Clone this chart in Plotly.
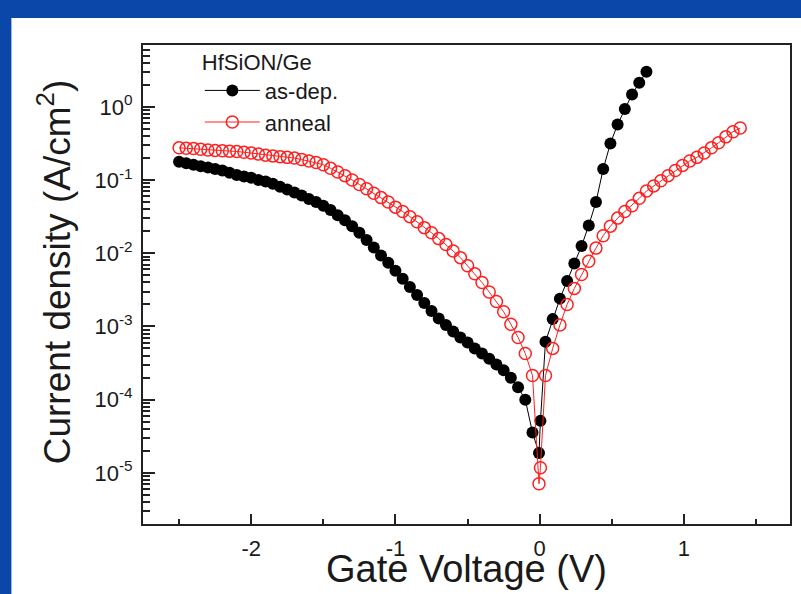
import plotly.graph_objects as go

# ---------------- data ----------------
# as-dep. sample : gate voltage (V) and log10 of current density (A/cm^2)
asdep_V = [-2.50, -2.45, -2.40, -2.35, -2.30, -2.25, -2.20, -2.15, -2.10, -2.05,
           -2.00, -1.95, -1.90, -1.85, -1.80, -1.75, -1.70, -1.65, -1.60, -1.55,
           -1.50, -1.45, -1.40, -1.35, -1.30, -1.25, -1.20, -1.15, -1.10, -1.05,
           -1.00, -0.95, -0.90, -0.85, -0.80, -0.75, -0.70, -0.65, -0.60, -0.55,
           -0.50, -0.45, -0.40, -0.35, -0.30, -0.25, -0.20, -0.15, -0.10, -0.05,
           -0.005, 0.005,
           0.04, 0.09, 0.14, 0.19, 0.24, 0.29, 0.34, 0.39, 0.44, 0.49,
           0.54, 0.59, 0.64, 0.69, 0.74]
asdep_logJ = [-0.75, -0.77, -0.79, -0.81, -0.83, -0.85, -0.87, -0.90, -0.93, -0.95,
              -0.97, -1.00, -1.02, -1.05, -1.09, -1.13, -1.17, -1.21, -1.26, -1.30,
              -1.35, -1.41, -1.48, -1.55, -1.63, -1.72, -1.82, -1.92, -2.03, -2.13,
              -2.24, -2.35, -2.46, -2.57, -2.68, -2.79, -2.89, -2.98, -3.07, -3.15,
              -3.22, -3.30, -3.37, -3.44, -3.52, -3.60, -3.70, -3.83, -4.00, -4.45,
              -4.73, -4.29,
              -3.21, -2.90, -2.62, -2.38, -2.14, -1.90, -1.62, -1.30, -0.85, -0.50,
              -0.24, -0.03, 0.17, 0.33, 0.48]

# anneal sample
anneal_V = [-2.50, -2.45, -2.40, -2.35, -2.30, -2.25, -2.20, -2.15, -2.10, -2.05,
            -2.00, -1.95, -1.90, -1.85, -1.80, -1.75, -1.70, -1.65, -1.60, -1.55,
            -1.50, -1.45, -1.40, -1.35, -1.30, -1.25, -1.20, -1.15, -1.10, -1.05,
            -1.00, -0.95, -0.90, -0.85, -0.80, -0.75, -0.70, -0.65, -0.60, -0.55,
            -0.50, -0.45, -0.40, -0.35, -0.30, -0.25, -0.20, -0.15, -0.10, -0.05,
            -0.005, 0.005,
            0.04, 0.09, 0.14, 0.19, 0.24, 0.29, 0.34, 0.39, 0.44, 0.49,
            0.54, 0.59, 0.64, 0.69, 0.74, 0.79, 0.84, 0.89, 0.94, 0.99,
            1.04, 1.09, 1.14, 1.19, 1.24, 1.29, 1.34, 1.39]
anneal_logJ = [-0.56, -0.565, -0.57, -0.58, -0.59, -0.595, -0.60, -0.605, -0.61, -0.62,
               -0.63, -0.645, -0.66, -0.67, -0.68, -0.69, -0.70, -0.72, -0.74, -0.76,
               -0.79, -0.84, -0.89, -0.94, -1.00, -1.06, -1.12, -1.18, -1.24, -1.30,
               -1.37, -1.43, -1.50, -1.57, -1.65, -1.72, -1.80, -1.88, -1.97, -2.06,
               -2.17, -2.28, -2.40, -2.53, -2.66, -2.80, -2.97, -3.15, -3.37, -3.67,
               -5.15, -4.93,
               -3.67, -3.30, -2.98, -2.70, -2.48, -2.29, -2.11, -1.93, -1.76, -1.63,
               -1.52, -1.43, -1.35, -1.25, -1.15, -1.08, -1.01, -0.94, -0.87, -0.80,
               -0.74, -0.69, -0.63, -0.56, -0.49, -0.41, -0.34, -0.29]

x_tickvals = [-2, -1, 0, 1]
x_ticktext = ["-2", "-1", "0", "1"]
x_minorvals = [-2.5, -1.5, -0.5, 0.5, 1.5]
y_tickvals = [1e-5, 1e-4, 1e-3, 1e-2, 1e-1, 1e0]
y_ticktext = ["10<sup>-5</sup>", "10<sup>-4</sup>", "10<sup>-3</sup>",
              "10<sup>-2</sup>", "10<sup>-1</sup>", "10<sup>0</sup>"]
y_minorvals = [k * 10.0 ** d for d in range(-6, 1) for k in range(2, 10)]

# ---------------- figure ----------------
FONT = "Liberation Sans, Arial, sans-serif"
AXC = "#222222"
BLUE = "#0b47a8"

fig = go.Figure()
fig.add_trace(go.Scatter(
    x=asdep_V, y=[10 ** v for v in asdep_logJ], mode="lines+markers", name="as-dep.",
    line=dict(color="black", width=1),
    marker=dict(symbol="circle", size=12, color="black", line=dict(width=0))))
fig.add_trace(go.Scatter(
    x=anneal_V, y=[10 ** v for v in anneal_logJ], mode="lines+markers", name="anneal",
    line=dict(color="#ff2020", width=1),
    marker=dict(symbol="circle-open", size=12, color="#ff2020", line=dict(width=1.5))))

L, R, T, B = 143, 792, 45, 524
W, H = 801, 594
pw, ph = R - L, B - T


def px(x):
    return (x - L) / pw


def py(y):
    return (B - y) / ph


fig.update_layout(
    width=W, height=H,
    margin=dict(l=L, r=W - R, t=T, b=H - B, pad=0),
    paper_bgcolor=BLUE, plot_bgcolor="white",
    font=dict(family=FONT, color="#1a1a1a"),
    showlegend=True,
    legend=dict(x=px(200), y=py(41), xanchor="left", yanchor="top",
                bgcolor="rgba(0,0,0,0)", font=dict(size=22, family=FONT),
                title=dict(text="HfSiON/Ge", font=dict(size=22, family=FONT)),
                itemwidth=55, tracegroupgap=0),
    xaxis=dict(range=[-2.75, 1.735], tickmode="array", tickvals=x_tickvals, ticktext=x_ticktext,
               ticks="inside", ticklen=10, tickwidth=1.5, tickcolor=AXC,
               showline=True, linecolor=AXC, linewidth=2, mirror=True,
               showgrid=False, zeroline=False, tickfont=dict(size=22, family=FONT),
               ticklabelstandoff=4,
               minor=dict(tickmode="array", tickvals=x_minorvals, ticks="inside", ticklen=5,
                          tickwidth=1.5, tickcolor=AXC, showgrid=False)),
    yaxis=dict(type="log", range=[-5.699, 0.845], tickmode="array",
               tickvals=y_tickvals, ticktext=y_ticktext,
               ticks="inside", ticklen=12, tickwidth=1.5, tickcolor=AXC,
               showline=True, linecolor=AXC, linewidth=2, mirror=True,
               showgrid=False, zeroline=False, tickfont=dict(size=22, family=FONT),
               ticklabelstandoff=4,
               minor=dict(tickmode="array", tickvals=y_minorvals, ticks="inside", ticklen=7,
                          tickwidth=1.5, tickcolor=AXC, showgrid=False)),
    shapes=[dict(type="rect", xref="paper", yref="paper", layer="below",
                 x0=px(11), x1=px(W + 5), y0=py(H + 5), y1=py(18),
                 fillcolor="white", line=dict(width=0))],
    annotations=[
        dict(text="Gate Voltage (V)", xref="paper", yref="paper", x=0.5, y=py(569),
             xanchor="center", yanchor="middle", showarrow=False,
             font=dict(size=38, family=FONT, color="#1a1a1a")),
        dict(text="Current density (A/cm<sup>2</sup>)", xref="paper", yref="paper",
             x=px(54), y=py(272), xanchor="center", yanchor="middle", textangle=-90,
             showarrow=False, font=dict(size=37, family=FONT, color="#1a1a1a")),
    ],
)

fig.write_html(
    "out.html",
    config={"displayModeBar": False},
    post_script=("document.body.style.margin='0';document.body.style.padding='0';"
                 "document.body.style.background='" + BLUE + "';"),
)
